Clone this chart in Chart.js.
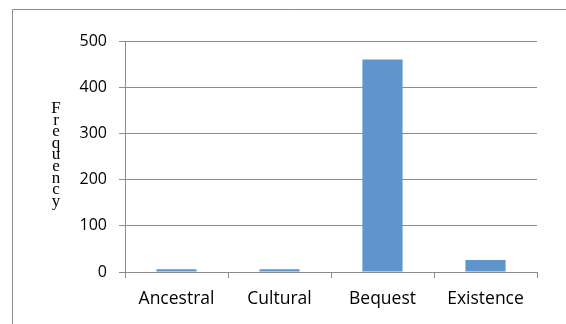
<!DOCTYPE html>
<html><head><meta charset="utf-8">
<script src="https://cdn.jsdelivr.net/npm/chart.js@4"></script>
<style>html,body{margin:0;padding:0;background:#fff;}#wrap{width:566px;height:324px;position:relative;}</style>
</head><body><div id="wrap"><canvas id="c" width="566" height="324"></canvas></div>
<script>
const categories = ['Ancestral', 'Cultural', 'Bequest', 'Existence'];
const frequency = [6, 6, 460, 26];
const yTicks = [0, 100, 200, 300, 400, 500];
const yTitle = 'Frequency';

const frame = {
  id: 'frame',
  beforeDraw(chart) {
    const ctx = chart.ctx;
    ctx.save();
    ctx.fillStyle = '#fff';
    ctx.fillRect(0, 0, chart.width, chart.height);
    ctx.strokeStyle = '#8c8c8c';
    ctx.lineWidth = 1;
    ctx.beginPath();
    ctx.moveTo(12.5, 324);
    ctx.lineTo(12.5, 9.5);
    ctx.lineTo(566, 9.5);
    ctx.stroke();
    ctx.restore();
  },
  afterDraw(chart) {
    const ctx = chart.ctx;
    ctx.save();
    ctx.fillStyle = '#000';
    ctx.font = '17px "Liberation Serif", serif';
    ctx.textAlign = 'center';
    ctx.textBaseline = 'alphabetic';
    const letters = yTitle.split('');
    letters.forEach((ch, i) => ctx.fillText(ch, 56, 113 + i * 11.6));
    ctx.restore();
  }
};

function build() {
  new Chart(document.getElementById('c'), {
    type: 'bar',
    data: {
      labels: categories,
      datasets: [{
        data: frequency,
        backgroundColor: '#5f95ca',
        borderWidth: 0,
        barPercentage: 0.39,
        categoryPercentage: 1
      }]
    },
    options: {
      responsive: false,
      animation: false,
      devicePixelRatio: 1,
      layout: { padding: { left: 0, right: 29, top: 41, bottom: 0 } },
      plugins: { legend: { display: false }, tooltip: { enabled: false } },
      scales: {
        x: {
          grid: { display: true, drawOnChartArea: false, drawTicks: true, tickLength: 6, color: '#8c8c8c', offset: true },
          border: { display: true, color: '#8c8c8c' },
          ticks: { color: '#000', font: { family: '"Open Sans"', size: 17.5 }, padding: 11, maxRotation: 0 },
          afterFit(s) { s.height = 52; }
        },
        y: {
          min: 0, max: 500,
          afterBuildTicks(s) { s.ticks = yTicks.map(v => ({ value: v })); },
          grid: { color: '#8c8c8c', tickLength: 6 },
          border: { display: true, color: '#8c8c8c' },
          ticks: { color: '#000', font: { family: '"Open Sans"', size: 16 }, padding: 12 },
          afterFit(s) { s.width = 125; }
        }
      }
    },
    plugins: [frame]
  });
}
Promise.all([
  document.fonts.load('17px "Liberation Serif"'),
  document.fonts.load('16px "Open Sans"')
]).then(build, build);
</script></body></html>
